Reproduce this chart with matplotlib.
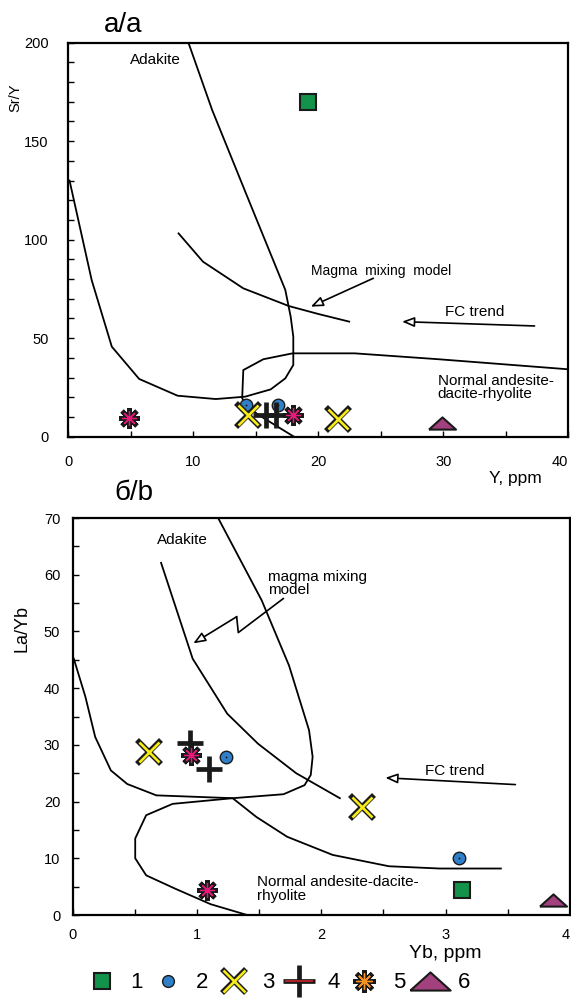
import matplotlib
matplotlib.use("Agg")
import matplotlib.pyplot as plt
from matplotlib.lines import Line2D
from matplotlib.ticker import MultipleLocator

plt.rcParams.update({
    "font.family": ["Liberation Sans", "DejaVu Sans"],
    "font.size": 10.5,
})

# --------------------------------------------------
# colours
# --------------------------------------------------
GREEN = "#12924a"
BLUE = "#2f80c8"
YELLOW = "#f7ec16"
PINK = "#e8197a"
ORANGE = "#f39221"
PURPLE = "#a3407e"
RED = "#d8242b"
EDGE = "#1a1a1a"

# --------------------------------------------------
# panel a: Sr/Y vs Y
# --------------------------------------------------
A_SQ_X, A_SQ_Y = [19.2], [169.7]
A_CIRC_X, A_CIRC_Y = [14.25, 16.75], [16.0, 16.0]
A_CROSS_X, A_CROSS_Y = [14.4, 21.55], [11.2, 8.8]
A_PLUS_X, A_PLUS_Y = [15.85, 16.6], [10.8, 10.8]
A_AST_X, A_AST_Y = [4.85, 18.0], [9.3, 11.0]
A_TRI_X, A_TRI_Y = [29.9], [7.0]
A_XTICKS = [0, 10, 20, 30, 40]

A_ADAKITE_X = [9.61, 11.51, 14.43, 17.36, 17.79, 18.0, 18.0, 17.36, 16.19,
               14.14, 11.80, 8.74, 5.67, 3.48, 1.87, 0.1]
A_ADAKITE_Y = [200, 165.8, 120.1, 74.5, 60.9, 50.8, 36.4, 29.6, 24.0,
               20.3, 19.1, 20.8, 29.3, 45.7, 79.5, 130.0]
A_NORMAL_X = [40.0, 29.63, 22.91, 17.94, 15.60, 14.0, 13.91, 14.3, 15.23, 18.05]
A_NORMAL_Y = [34.2, 39.3, 42.3, 42.3, 39.3, 33.8, 19.5, 15.5, 11.0, 0.0]
A_MIX_X = [8.82, 10.78, 14.0, 17.65, 19.99, 22.47]
A_MIX_Y = [103.2, 88.8, 75.3, 66.3, 62.3, 58.4]
A_MIX_ARROW = [(24.4, 80.4), (19.4, 66.0)]
A_FC_ARROW = [(37.3, 56.2), (26.7, 58.4)]

# --------------------------------------------------
# panel b: La/Yb vs Yb
# --------------------------------------------------
B_SQ_X, B_SQ_Y = [3.13], [4.5]
B_CIRC_X, B_CIRC_Y = [1.23, 3.11], [27.9, 10.0]
B_CROSS_X, B_CROSS_Y = [0.613, 2.33], [28.7, 19.1]
B_PLUS_X, B_PLUS_Y = [0.943, 1.10], [30.3, 25.7]
B_AST_X, B_AST_Y = [0.95, 1.08], [28.3, 4.4]
B_TRI_X, B_TRI_Y = [3.86], [2.7]
B_XTICKS = [0, 1, 2, 3, 4]

B_ADAKITE_X = [1.170, 1.520, 1.740, 1.901, 1.930, 1.915, 1.865, 1.696, 1.287,
               0.673, 0.439, 0.307, 0.181, 0.102, 0.009]
B_ADAKITE_Y = [70.0, 55.5, 44.0, 32.6, 27.9, 24.7, 22.9, 21.3, 20.6,
               21.1, 23.1, 25.5, 31.4, 38.5, 45.2]
B_NORMAL_X = [3.444, 2.953, 2.544, 2.091, 1.725, 1.477, 1.287, 0.804, 0.591,
              0.503, 0.503, 0.591, 0.819, 1.111, 1.404]
B_NORMAL_Y = [8.2, 8.2, 8.6, 10.6, 13.8, 17.3, 20.6, 19.6, 17.6,
              13.5, 10.0, 7.0, 4.7, 1.9, 0.0]
B_MIX_X = [0.711, 0.965, 1.243, 1.491, 1.798, 2.149]
B_MIX_Y = [62.1, 45.2, 35.5, 30.2, 25.0, 20.6]
B_MIX_ZIGZAG_X = [1.694, 1.332, 1.319]
B_MIX_ZIGZAG_Y = [55.8, 49.8, 52.6]
B_MIX_TIP = (0.970, 47.9)
B_FC_ARROW = [(3.561, 23.0), (2.515, 24.2)]

LEGEND_LABELS = ["1", "2", "3", "4", "5", "6"]

# flat triangle marker
TRI = [(-1, -0.45), (1, -0.45), (0, 0.45), (-1, -0.45)]
ASTER = (8, 2, 0)

LW = 1.3
ARROW = dict(arrowstyle="-|>,head_length=0.7,head_width=0.28",
             facecolor="white", edgecolor="black", lw=1.2, shrinkA=0, shrinkB=0)


def draw_points(ax, sq, circ, cross, plus, ast, tri, ast_inner):
    ax.plot(*sq, ls="none", marker="s", ms=12, mfc=GREEN, mec=EDGE, mew=1.5, zorder=5)
    ax.plot(*circ, ls="none", marker="o", ms=9, mfc=BLUE, mec=EDGE, mew=1.0, zorder=4)
    ax.plot(*circ, ls="none", marker="o", ms=1.4, mfc=EDGE, mec=EDGE, mew=0, zorder=4)
    ax.plot(*cross, ls="none", marker="x", ms=17, mec=EDGE, mew=4.0, zorder=5)
    ax.plot(*cross, ls="none", marker="x", ms=14.8, mec=YELLOW, mew=1.9, zorder=5)
    ax.plot(*plus, ls="none", marker="+", ms=19, mec=EDGE, mew=3.4, zorder=6)
    ax.plot(*ast, ls="none", marker=ASTER, ms=15, mec=EDGE, mew=3.4, zorder=7)
    ax.plot(*ast, ls="none", marker=ASTER, ms=10.5, mec=ast_inner, mew=0.9, zorder=7)
    ax.plot(*tri, ls="none", marker=TRI, ms=19.5, mfc=PURPLE, mec=EDGE, mew=1.5, zorder=5)


def style_axes(ax, xticks, xmin, ymaj, ymin, xpad, ypad):
    for sp in ax.spines.values():
        sp.set_linewidth(1.6)
    ax.set_xticks(xticks, [str(t) for t in xticks])
    ax.xaxis.set_minor_locator(MultipleLocator(xmin))
    ax.yaxis.set_major_locator(MultipleLocator(ymaj))
    ax.yaxis.set_minor_locator(MultipleLocator(ymin))
    ax.tick_params(which="both", direction="in", length=4, width=1.0,
                   top=False, right=False, labelsize=10.5)
    ax.tick_params(axis="x", which="major", pad=xpad)
    ax.tick_params(axis="y", which="major", pad=ypad)
    # last x label sits inside the right edge, as in the original figure
    ax.get_xticklabels()[-1].set_ha("right")


fig = plt.figure(figsize=(5.71, 10.02), dpi=100)

# --------------------------------------------------
# panel a
# --------------------------------------------------
ax1 = fig.add_axes([0.1196, 0.5642, 0.8757, 0.3932])
ax1.plot(A_ADAKITE_X, A_ADAKITE_Y, color="black", lw=LW)
ax1.plot(A_NORMAL_X, A_NORMAL_Y, color="black", lw=LW)
ax1.plot(A_MIX_X, A_MIX_Y, color="black", lw=LW)
ax1.annotate("", xy=A_MIX_ARROW[1], xytext=A_MIX_ARROW[0], arrowprops=ARROW)
ax1.annotate("", xy=A_FC_ARROW[1], xytext=A_FC_ARROW[0], arrowprops=ARROW)
draw_points(ax1, (A_SQ_X, A_SQ_Y), (A_CIRC_X, A_CIRC_Y), (A_CROSS_X, A_CROSS_Y),
            (A_PLUS_X, A_PLUS_Y), (A_AST_X, A_AST_Y), (A_TRI_X, A_TRI_Y), PINK)

ax1.text(4.94, 191, "Adakite", fontsize=11, va="center")
ax1.text(19.4, 84.3, "Magma  mixing  model", fontsize=10, va="center")
ax1.text(30.15, 63.1, "FC trend", fontsize=11, va="center")
ax1.text(29.55, 25.0, "Normal andesite-\ndacite-rhyolite", fontsize=11,
         va="center", linespacing=0.95)

ax1.set_xlim(0, 40)
ax1.set_ylim(0, 200)
style_axes(ax1, A_XTICKS, 5, 50, 10, 13, 14)
ax1.set_ylabel("Sr/Y", fontsize=10.5)
ax1.yaxis.set_label_coords(-0.091, 0.861)
ax1.set_xlabel("Y, ppm", fontsize=12.5)
ax1.xaxis.set_label_coords(0.894, -0.087)
fig.text(0.182, 0.968, "а/a", fontsize=20, va="baseline")

# --------------------------------------------------
# panel b
# --------------------------------------------------
ax2 = fig.add_axes([0.1273, 0.0868, 0.8709, 0.3962])
ax2.plot(B_ADAKITE_X, B_ADAKITE_Y, color="black", lw=LW)
ax2.plot(B_NORMAL_X, B_NORMAL_Y, color="black", lw=LW)
ax2.plot(B_MIX_X, B_MIX_Y, color="black", lw=LW)
ax2.plot(B_MIX_ZIGZAG_X, B_MIX_ZIGZAG_Y, color="black", lw=1.2)
ax2.annotate("", xy=B_MIX_TIP, xytext=(B_MIX_ZIGZAG_X[-1], B_MIX_ZIGZAG_Y[-1]),
             arrowprops=ARROW)
ax2.annotate("", xy=B_FC_ARROW[1], xytext=B_FC_ARROW[0], arrowprops=ARROW)
draw_points(ax2, (B_SQ_X, B_SQ_Y), (B_CIRC_X, B_CIRC_Y), (B_CROSS_X, B_CROSS_Y),
            (B_PLUS_X, B_PLUS_Y), (B_AST_X, B_AST_Y), (B_TRI_X, B_TRI_Y), PINK)

ax2.text(0.68, 66.2, "Adakite", fontsize=11, va="center")
ax2.text(1.573, 58.5, "magma mixing\nmodel", fontsize=11, va="center", linespacing=0.95)
ax2.text(2.836, 25.4, "FC trend", fontsize=11, va="center")
ax2.text(1.482, 4.55, "Normal andesite-dacite-\nrhyolite", fontsize=11,
         va="center", linespacing=0.95)

ax2.set_xlim(0, 4)
ax2.set_ylim(0, 70)
style_axes(ax2, B_XTICKS, 0.5, 10, 5, 9, 9)
ax2.set_ylabel("La/Yb", fontsize=13)
ax2.yaxis.set_label_coords(-0.084, 0.722)
ax2.set_xlabel("Yb, ppm", fontsize=14)
ax2.xaxis.set_label_coords(0.75, -0.075)
fig.text(0.201, 0.501, "б/b", fontsize=20, va="baseline")

# --------------------------------------------------
# legend along the bottom
# --------------------------------------------------
handles = [
    Line2D([], [], ls="none", marker="s", ms=12, mfc=GREEN, mec=EDGE, mew=1.5),
    Line2D([], [], ls="none", marker="o", ms=8.5, mfc=BLUE, mec=EDGE, mew=1.0),
    (Line2D([], [], ls="none", marker="x", ms=17.5, mec=EDGE, mew=4.0),
     Line2D([], [], ls="none", marker="x", ms=15.2, mec=YELLOW, mew=1.9)),
    (Line2D([], [], ls="none", marker="+", ms=23, mec=EDGE, mew=3.4),
     Line2D([], [], ls="none", marker="_", ms=20, mec=RED, mew=1.1)),
    (Line2D([], [], ls="none", marker=ASTER, ms=16, mec=EDGE, mew=3.4),
     Line2D([], [], ls="none", marker=ASTER, ms=11.5, mec=ORANGE, mew=1.0)),
    Line2D([], [], ls="none", marker=TRI, ms=29, mfc=PURPLE, mec=EDGE, mew=1.5),
]
fig.legend(handles, LEGEND_LABELS, ncol=6, loc="center",
           bbox_to_anchor=(0.492, 0.019), frameon=False, fontsize=16,
           handlelength=1.0, handletextpad=0.77, columnspacing=0.62,
           borderpad=0, borderaxespad=0)

fig.savefig("out.png", dpi=100)
